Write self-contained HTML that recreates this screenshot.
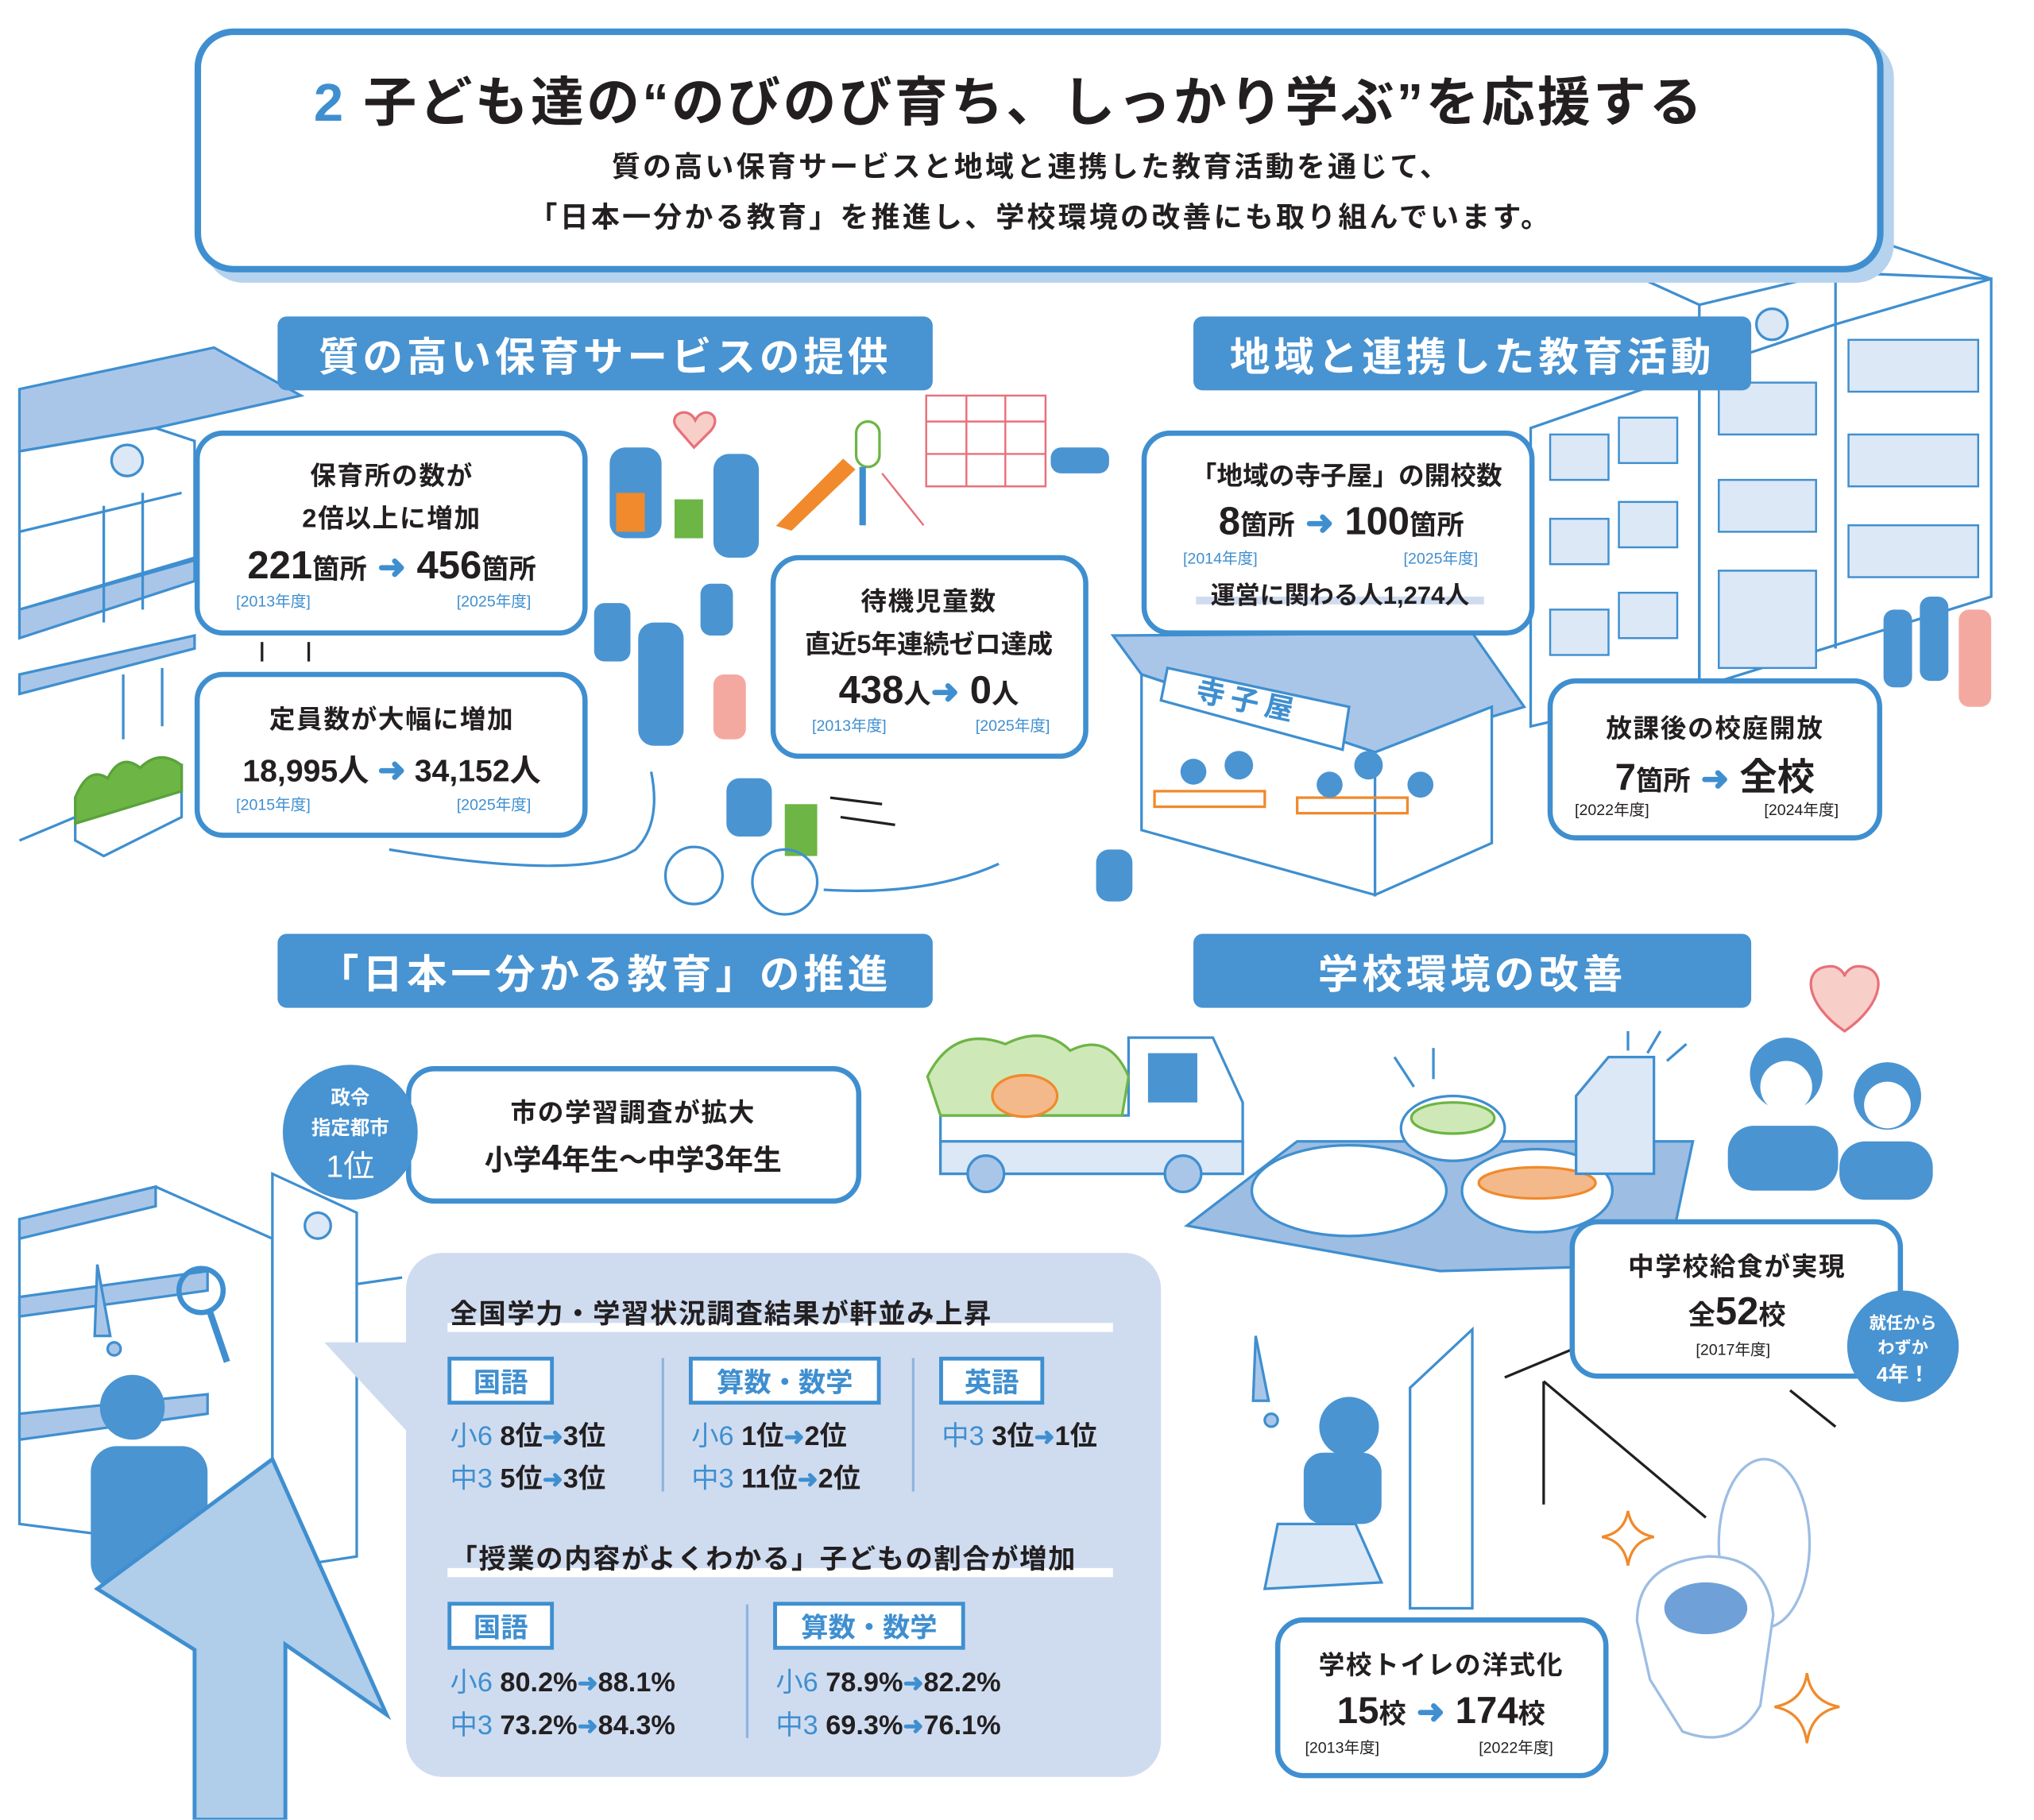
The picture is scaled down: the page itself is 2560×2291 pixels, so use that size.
<!DOCTYPE html>
<html><head><meta charset="utf-8"><style>
html,body{margin:0;padding:0;background:#fff;}
body{width:2560px;height:2291px;overflow:hidden;position:relative;}
#w{position:absolute;left:0;top:0;width:1568px;height:1403px;transform:scale(1.63265);transform-origin:0 0;font-family:"Liberation Sans","Noto Sans CJK JP",sans-serif;color:#231f20;font-weight:bold;}
.t{position:absolute;white-space:nowrap;transform:translate(-50%,-50%);}
.l{position:absolute;white-space:nowrap;transform:translateY(-50%);}
.box{position:absolute;background:#fff;border:4px solid #3f8fd0;border-radius:22px;box-sizing:border-box;}
.hd{position:absolute;background:#4893d1;color:#fff;border-radius:7px;font-size:31px;display:flex;align-items:center;justify-content:center;letter-spacing:3px;}
.b{color:#3f8fd0;}
.yr{font-size:12px;color:#3f8fd0;font-weight:normal;}
.ar{color:#3f8fd0;font-size:26px;}
.tag{position:absolute;background:#fff;border:3px solid #3f8fd0;color:#3f8fd0;font-size:21px;display:flex;align-items:center;justify-content:center;box-sizing:border-box;}
.row{position:absolute;font-size:21px;white-space:nowrap;transform:translateY(-50%);}
.row .b{font-weight:normal;}
.sa{color:#3f8fd0;font-size:19px;}
</style></head><body><div id="w">
<svg width="1568" height="1403" style="position:absolute;left:0;top:0" fill="none" stroke="#3f8fd0" stroke-width="2">
<polygon points="15,300 165,268 232,305 120,330 15,348" fill="#a9c6e8"/>
<polygon points="15,348 120,330 150,340 150,430 15,470" fill="#fff"/>
<polygon points="15,470 150,432 150,448 15,492" fill="#a9c6e8"/>
<circle cx="98" cy="355" r="12" fill="#dce8f6"/>
<line x1="15" y1="410" x2="140" y2="380"/><line x1="80" y1="390" x2="80" y2="480"/><line x1="110" y1="380" x2="110" y2="470"/>
<polygon points="15,520 150,490 150,500 15,535" fill="#a9c6e8"/>
<line x1="95" y1="520" x2="95" y2="570"/><line x1="125" y1="515" x2="125" y2="560"/>
<polygon points="58,615 140,590 140,630 80,660 58,648" fill="#fff"/>
<path d="M58,615 q10,-25 25,-15 q10,-20 25,-8 q15,-15 32,-2 l0,20 l-82,25z" fill="#6db545" stroke="#5aa23a"/>
<line x1="15" y1="648" x2="58" y2="630"/>
<polygon points="1180,330 1310,285 1310,530 1180,560" fill="#fff"/>
<polygon points="1310,285 1415,250 1535,215 1535,460 1310,530" fill="#fff"/>
<line x1="1255" y1="210" x2="1310" y2="235"/><line x1="1310" y1="235" x2="1415" y2="210"/><line x1="1415" y1="210" x2="1535" y2="215"/><line x1="1415" y1="210" x2="1415" y2="500"/><line x1="1310" y1="235" x2="1310" y2="530"/><line x1="1445" y1="185" x2="1535" y2="215"/>
<circle cx="1366" cy="250" r="12" fill="#dce8f6"/>
<g fill="#dce8f6" stroke="#3f8fd0" stroke-width="1.5">
<rect x="1195" y="335" width="45" height="35"/><rect x="1248" y="322" width="45" height="35"/>
<rect x="1195" y="400" width="45" height="35"/><rect x="1248" y="387" width="45" height="35"/>
<rect x="1195" y="470" width="45" height="35"/><rect x="1248" y="457" width="45" height="35"/>
<rect x="1325" y="295" width="75" height="40"/><rect x="1325" y="370" width="75" height="40"/><rect x="1325" y="440" width="75" height="75"/>
<rect x="1425" y="262" width="100" height="40"/><rect x="1425" y="335" width="100" height="40"/><rect x="1425" y="405" width="100" height="40"/>
</g>
<g fill="#4a94d2" stroke="none"><rect x="1452" y="470" width="22" height="60" rx="8"/><rect x="1480" y="460" width="22" height="65" rx="8"/><rect x="1510" y="470" width="25" height="75" rx="8" fill="#f4a9a0"/></g>
<polygon points="858,490 1135,488 1175,545 1060,580 880,520" fill="#a9c6e8"/>
<polygon points="880,520 1060,580 1060,690 880,640" fill="#fff"/>
<polygon points="1060,580 1150,545 1150,650 1060,690" fill="#fff"/>
<polygon points="900,515 1040,545 1035,578 895,540" fill="#fff"/>
<text x="920" y="548" fill="#3f8fd0" stroke="none" font-size="22" font-family="Noto Sans CJK JP" transform="rotate(12 960 548)">寺 子 屋</text>
<g stroke="#f08a2c"><rect x="890" y="610" width="85" height="12"/><rect x="1000" y="615" width="85" height="12"/></g>
<g fill="#4a94d2" stroke="none"><circle cx="920" cy="595" r="10"/><circle cx="955" cy="590" r="11"/><circle cx="1025" cy="605" r="10"/><circle cx="1055" cy="590" r="11"/><circle cx="1095" cy="605" r="10"/><rect x="845" y="655" width="28" height="40" rx="10"/></g>
<polygon points="600,405 650,355 658,362 610,408" fill="#f08a2c" stroke="#f08a2c"/>
<rect x="660" y="325" width="18" height="35" rx="9" stroke="#6db545"/>
<line x1="665" y1="360" x2="665" y2="405" stroke-width="5"/>
<g stroke="#e8707a" stroke-width="1.5"><rect x="714" y="305" width="92" height="70"/><line x1="714" y1="325" x2="806" y2="325"/><line x1="714" y1="350" x2="806" y2="350"/><line x1="745" y1="305" x2="745" y2="375"/><line x1="775" y1="305" x2="775" y2="375"/><line x1="680" y1="365" x2="712" y2="405"/></g>
<path d="M522,330 c-8,-10 8,-18 14,-6 c6,-12 22,-4 12,8 l-13,13z" fill="#f8cfc8" stroke="#e8707a"/>
<g fill="#4a94d2" stroke="none"><rect x="470" y="345" width="40" height="70" rx="12"/><rect x="550" y="350" width="35" height="80" rx="12"/><rect x="475" y="380" width="22" height="30" fill="#f08a2c"/><rect x="520" y="385" width="22" height="30" fill="#6db545"/><rect x="810" y="345" width="45" height="20" rx="8"/><rect x="458" y="465" width="28" height="45" rx="8"/><rect x="492" y="480" width="35" height="95" rx="12"/><rect x="540" y="450" width="25" height="40" rx="8"/><rect x="550" y="520" width="25" height="50" rx="8" fill="#f4a9a0"/><rect x="560" y="600" width="35" height="45" rx="10"/><rect x="605" y="620" width="25" height="40" fill="#6db545"/></g>
<circle cx="535" cy="675" r="22"/><circle cx="605" cy="680" r="25"/>
<path d="M300,655 q150,25 190,0 q20,-20 12,-60"/><path d="M635,686 q80,5 135,-20"/>
<line x1="640" y1="615" x2="680" y2="620" stroke="#231f20"/><line x1="648" y1="630" x2="690" y2="636" stroke="#231f20"/>
<line x1="202" y1="495" x2="202" y2="510" stroke="#231f20"/><line x1="238" y1="495" x2="238" y2="510" stroke="#231f20"/>
<polygon points="15,940 120,915 210,955 210,1200 15,1175" fill="#fff"/>
<polygon points="15,940 120,915 120,930 15,955" fill="#a9c6e8"/>
<polygon points="15,1000 160,980 160,995 15,1015" fill="#a9c6e8"/>
<polygon points="15,1090 160,1075 160,1090 15,1110" fill="#a9c6e8"/>
<polygon points="210,905 275,935 275,1200 210,1210" fill="#fff"/>
<line x1="275" y1="990" x2="310" y2="985"/><line x1="275" y1="1060" x2="310" y2="1050"/>
<circle cx="245" cy="945" r="10" fill="#dce8f6"/>
<circle cx="155" cy="995" r="17" stroke-width="4"/><line x1="162" y1="1012" x2="175" y2="1050" stroke-width="5"/>
<path d="M75,975 l10,55 l-12,0z" fill="#a9c6e8"/><circle cx="88" cy="1040" r="5" fill="#a9c6e8"/>
<g fill="#4a94d2" stroke="none"><circle cx="102" cy="1085" r="25"/><rect x="70" y="1115" width="90" height="110" rx="20"/></g>
<polygon points="75,1225 210,1125 298,1322 220,1268 220,1403 150,1403 150,1272" fill="#b0cdea" stroke-width="3"/>
<polygon points="725,860 870,860 870,800 935,800 958,850 958,905 725,905" fill="#fff"/>
<rect x="885" y="812" width="38" height="38" fill="#4a94d2" stroke="none"/>
<rect x="725" y="880" width="233" height="25" fill="#dce8f6"/>
<circle cx="760" cy="905" r="14" fill="#a9c6e8"/><circle cx="912" cy="905" r="14" fill="#a9c6e8"/>
<g stroke="#6db545"><path d="M715,830 q20,-40 60,-25 q30,-15 50,5 q30,-15 45,20 l-5,30 l-140,0z" fill="#cfe8b8"/></g>
<ellipse cx="790" cy="845" rx="25" ry="16" fill="#f4b98a" stroke="#f08a2c"/>
<polygon points="915,945 1000,880 1305,880 1285,975 1110,980" fill="#9dbde3"/>
<ellipse cx="1120" cy="870" rx="40" ry="25" fill="#fff"/><ellipse cx="1120" cy="862" rx="32" ry="12" fill="#cfe8b8" stroke="#6db545"/>
<ellipse cx="1040" cy="918" rx="75" ry="35" fill="#fff"/>
<ellipse cx="1185" cy="918" rx="58" ry="32" fill="#fff"/><ellipse cx="1185" cy="912" rx="45" ry="12" fill="#f4b98a" stroke="#f08a2c"/>
<polygon points="1215,845 1240,815 1275,815 1275,905 1215,905" fill="#dce8f6"/>
<line x1="1075" y1="815" x2="1090" y2="838"/><line x1="1105" y1="808" x2="1105" y2="832"/><line x1="1255" y1="795" x2="1255" y2="810"/><line x1="1280" y1="795" x2="1270" y2="812"/><line x1="1300" y1="805" x2="1285" y2="818"/>
<path d="M1422,795 c-30,-20 -35,-50 -10,-50 c5,0 10,5 10,8 c0,-3 5,-8 10,-8 c25,0 20,30 -10,50z" fill="#f8cfc8" stroke="#e8707a"/>
<g fill="#4a94d2" stroke="none"><circle cx="1377" cy="828" r="28"/><rect x="1332" y="868" width="85" height="50" rx="20"/><circle cx="1455" cy="845" r="26"/><rect x="1418" y="880" width="72" height="45" rx="20"/></g>
<circle cx="1377" cy="838" r="20" fill="#fff" stroke="none"/><circle cx="1455" cy="852" r="18" fill="#fff" stroke="none"/>
<polygon points="1087,1070 1135,1025 1135,1240 1087,1240" fill="#fff"/>
<line x1="1160" y1="1062" x2="1225" y2="1035" stroke="#231f20"/><line x1="1190" y1="1065" x2="1190" y2="1160" stroke="#231f20"/><line x1="1190" y1="1065" x2="1315" y2="1170" stroke="#231f20"/>
<path d="M968,1030 l10,50 l-12,0z" fill="#a9c6e8"/><circle cx="980" cy="1095" r="5" fill="#a9c6e8"/>
<g fill="#4a94d2" stroke="none"><circle cx="1040" cy="1100" r="23"/><rect x="1005" y="1120" width="60" height="55" rx="15"/></g>
<path d="M985,1175 l60,0 l20,45 l-90,5z" fill="#dce8f6"/>
<ellipse cx="1360" cy="1190" rx="35" ry="65" fill="#fff" stroke="#9dbde3"/>
<path d="M1262,1250 q0,-45 55,-50 q45,0 50,45 l-10,70 q-20,35 -60,20 l-25,-40z" fill="#fff" stroke="#9dbde3"/>
<ellipse cx="1315" cy="1240" rx="32" ry="20" fill="#6fa1d8" stroke="none"/>
<path d="M1255,1165 q3,17 20,20 q-17,3 -20,22 q-3,-19 -20,-22 q17,-3 20,-20z" stroke="#f08a2c"/>
<path d="M1393,1290 q3,22 25,26 q-22,4 -25,28 q-3,-24 -25,-28 q22,-4 25,-26z" stroke="#f08a2c"/>
<line x1="1380" y1="1072" x2="1415" y2="1100" stroke="#231f20"/>
<polygon points="250,1035 315,1035 315,1105" fill="#cfdcf0" stroke="none"/>
</svg>

<div style="position:absolute;left:158px;top:30px;width:1302px;height:188px;background:#b5d3ee;border-radius:30px"></div>
<div class="box" style="left:150px;top:22px;width:1302px;height:188px;border-width:5px;border-radius:30px"></div>
<div class="t" style="left:778px;top:75px;font-size:41px;letter-spacing:2px"><span class="b">2</span> 子ども達の“のびのび育ち、しっかり学ぶ”を応援する</div>
<div class="t" style="left:795px;top:127px;font-size:22px;letter-spacing:2px">質の高い保育サービスと地域と連携した教育活動を通じて、</div>
<div class="t" style="left:802px;top:166px;font-size:22px;letter-spacing:2px">「日本一分かる教育」を推進し、学校環境の改善にも取り組んでいます。</div>

<div class="hd" style="left:214px;top:244px;width:505px;height:57px">質の高い保育サービスの提供</div>
<div class="hd" style="left:920px;top:244px;width:430px;height:57px">地域と連携した教育活動</div>
<div class="hd" style="left:214px;top:720px;width:505px;height:57px">「日本一分かる教育」の推進</div>
<div class="hd" style="left:920px;top:720px;width:430px;height:57px">学校環境の改善</div>

<div class="box" style="left:150px;top:332px;width:303px;height:158px"></div>
<div class="t" style="left:302px;top:365px;font-size:20px;letter-spacing:1px">保育所の数が</div>
<div class="t" style="left:302px;top:398px;font-size:20px;letter-spacing:1px">2倍以上に増加</div>
<div class="t" style="left:302px;top:437px;font-size:30px">221<span style="font-size:21px">箇所</span> <span class="ar">➜</span> 456<span style="font-size:21px">箇所</span></div>
<div class="l yr" style="left:182px;top:463px">[2013年度]</div><div class="l yr" style="left:352px;top:463px">[2025年度]</div>
<div class="box" style="left:150px;top:518px;width:303px;height:128px"></div>
<div class="t" style="left:302px;top:553px;font-size:20px;letter-spacing:1px">定員数が大幅に増加</div>
<div class="t" style="left:302px;top:592px;font-size:24px">18,995人 <span class="ar">➜</span> 34,152人</div>
<div class="l yr" style="left:182px;top:620px">[2015年度]</div><div class="l yr" style="left:352px;top:620px">[2025年度]</div>
<div class="box" style="left:594px;top:428px;width:245px;height:157px"></div>
<div class="t" style="left:716px;top:462px;font-size:20px;letter-spacing:1px">待機児童数</div>
<div class="t" style="left:716px;top:495px;font-size:20px">直近5年連続ゼロ達成</div>
<div class="t" style="left:716px;top:533px;font-size:30px">438<span style="font-size:21px">人</span><span class="ar">➜</span> 0<span style="font-size:21px">人</span></div>
<div class="l yr" style="left:626px;top:559px">[2013年度]</div><div class="l yr" style="left:752px;top:559px">[2025年度]</div>
<div class="box" style="left:880px;top:332px;width:303px;height:158px"></div>
<div class="t" style="left:1038px;top:365px;font-size:20px">「地域の寺子屋」の開校数</div>
<div class="t" style="left:1034px;top:403px;font-size:30px">8<span style="font-size:21px">箇所</span> <span class="ar">➜</span> 100<span style="font-size:21px">箇所</span></div>
<div class="l yr" style="left:912px;top:430px">[2014年度]</div><div class="l yr" style="left:1082px;top:430px">[2025年度]</div>
<div style="position:absolute;left:922px;top:460px;width:222px;height:6px;background:#cfdcf0"></div>
<div class="t" style="left:1033px;top:458px;font-size:19px">運営に関わる人1,274人</div>
<div class="box" style="left:1193px;top:523px;width:258px;height:125px"></div>
<div class="t" style="left:1322px;top:560px;font-size:20px;letter-spacing:1px">放課後の校庭開放</div>
<div class="t" style="left:1322px;top:597px;font-size:29px">7<span style="font-size:21px">箇所</span> <span class="ar">➜</span> 全校</div>
<div class="l yr" style="left:1214px;top:624px;color:#231f20">[2022年度]</div><div class="l yr" style="left:1360px;top:624px;color:#231f20">[2024年度]</div>
<div class="box" style="left:313px;top:822px;width:351px;height:106px"></div>
<div class="t" style="left:488px;top:856px;font-size:20px;letter-spacing:1px">市の学習調査が拡大</div>
<div class="t" style="left:488px;top:893px;font-size:22px">小学<span style="font-size:28px">4</span>年生～中学<span style="font-size:28px">3</span>年生</div>
<div style="position:absolute;left:218px;top:821px;width:104px;height:104px;border-radius:50%;background:#4893d1"></div>
<div class="t" style="left:270px;top:846px;font-size:15px;color:#fff">政令</div>
<div class="t" style="left:270px;top:869px;font-size:15px;color:#fff">指定都市</div>
<div class="t" style="left:270px;top:897px;font-size:24px;color:#fff;font-weight:normal">1位</div>
<div style="position:absolute;left:313px;top:966px;width:582px;height:404px;background:#cfdcf0;border-radius:28px"></div>
<div style="position:absolute;left:345px;top:1020px;width:513px;height:7px;background:#fff"></div>
<div class="l" style="left:347px;top:1012px;font-size:21px;letter-spacing:1px">全国学力・学習状況調査結果が軒並み上昇</div>
<div class="tag" style="left:345px;top:1046px;width:82px;height:37px">国語</div>
<div class="tag" style="left:531px;top:1046px;width:148px;height:37px">算数・数学</div>
<div class="tag" style="left:724px;top:1046px;width:81px;height:37px">英語</div>
<div style="position:absolute;left:510px;top:1047px;width:2px;height:103px;background:#8fb4de"></div>
<div style="position:absolute;left:703px;top:1047px;width:2px;height:103px;background:#8fb4de"></div>
<div class="row" style="left:347px;top:1106px"><span class="b">小6</span> 8位<span class="sa">➜</span>3位</div>
<div class="row" style="left:347px;top:1139px"><span class="b">中3</span> 5位<span class="sa">➜</span>3位</div>
<div class="row" style="left:533px;top:1106px"><span class="b">小6</span> 1位<span class="sa">➜</span>2位</div>
<div class="row" style="left:533px;top:1139px"><span class="b">中3</span> 11位<span class="sa">➜</span>2位</div>
<div class="row" style="left:726px;top:1106px"><span class="b">中3</span> 3位<span class="sa">➜</span>1位</div>
<div style="position:absolute;left:345px;top:1209px;width:513px;height:7px;background:#fff"></div>
<div class="l" style="left:347px;top:1201px;font-size:21px;letter-spacing:1px">「授業の内容がよくわかる」子どもの割合が増加</div>
<div class="tag" style="left:345px;top:1235px;width:82px;height:37px">国語</div>
<div class="tag" style="left:596px;top:1235px;width:148px;height:37px">算数・数学</div>
<div style="position:absolute;left:575px;top:1237px;width:2px;height:103px;background:#8fb4de"></div>
<div class="row" style="left:347px;top:1296px"><span class="b">小6</span> 80.2%<span class="sa">➜</span>88.1%</div>
<div class="row" style="left:347px;top:1329px"><span class="b">中3</span> 73.2%<span class="sa">➜</span>84.3%</div>
<div class="row" style="left:598px;top:1296px"><span class="b">小6</span> 78.9%<span class="sa">➜</span>82.2%</div>
<div class="row" style="left:598px;top:1329px"><span class="b">中3</span> 69.3%<span class="sa">➜</span>76.1%</div>
<div class="box" style="left:1210px;top:940px;width:257px;height:123px"></div>
<div class="t" style="left:1339px;top:975px;font-size:20px;letter-spacing:1px">中学校給食が実現</div>
<div class="t" style="left:1339px;top:1012px;font-size:21px">全<span style="font-size:30px">52</span>校</div>
<div class="t yr" style="left:1336px;top:1040px;color:#231f20">[2017年度]</div>
<div style="position:absolute;left:1424px;top:995px;width:86px;height:86px;border-radius:50%;background:#4893d1"></div>
<div class="t" style="left:1467px;top:1019px;font-size:13px;color:#fff">就任から</div>
<div class="t" style="left:1467px;top:1038px;font-size:13px;color:#fff">わずか</div>
<div class="t" style="left:1467px;top:1058px;font-size:16px;color:#fff">4年！</div>
<div class="box" style="left:983px;top:1247px;width:257px;height:124px"></div>
<div class="t" style="left:1111px;top:1282px;font-size:20px;letter-spacing:1px">学校トイレの洋式化</div>
<div class="t" style="left:1111px;top:1320px;font-size:29px">15<span style="font-size:21px">校</span> <span class="ar">➜</span> 174<span style="font-size:21px">校</span></div>
<div class="l yr" style="left:1006px;top:1347px;color:#231f20">[2013年度]</div><div class="l yr" style="left:1140px;top:1347px;color:#231f20">[2022年度]</div>
</div></body></html>
